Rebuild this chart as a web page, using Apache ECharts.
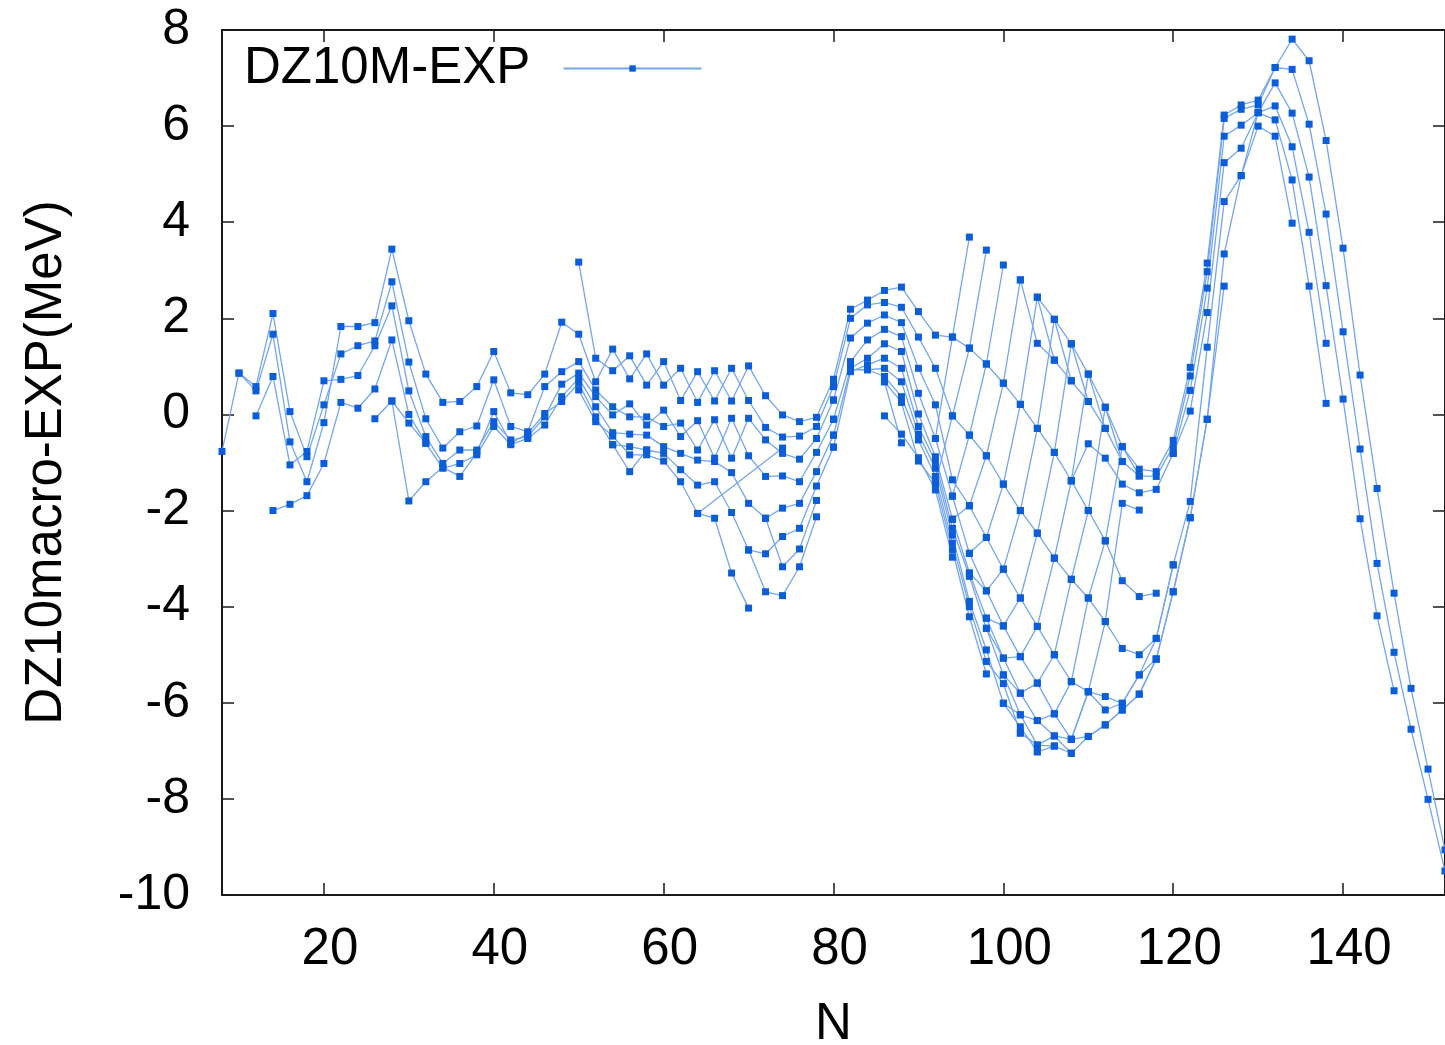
<!DOCTYPE html>
<html><head><meta charset="utf-8">
<script src="https://cdn.jsdelivr.net/npm/echarts@6/dist/echarts.min.js"></script>
<style>html,body{margin:0;padding:0;background:#fff}#c{width:1445px;height:1045px}</style>
</head><body><div id="c"></div>
<script>
// Tick labels
const xTicks = [20, 40, 60, 80, 100, 120, 140];
const yTicks = [-10, -8, -6, -4, -2, 0, 2, 4, 6, 8];
const seriesName = 'DZ10M-EXP';

// Chains: [N, DZ10macro-EXP (MeV)]
const c01 = [[8,-0.77],[10,0.86],[12,0.58],[14,2.10],[16,0.06],[18,-0.88],[20,0.20],[22,1.26],[24,1.43],[26,1.53],[28,2.76],[30,1.09],[32,-0.09],[34,-0.70],[36,-0.36],[38,-0.24],[40,0.72],[42,-0.25],[44,-0.36],[46,0.58],[48,0.89],[50,1.10],[52,0.51],[54,0.16],[56,-0.05],[58,-0.05],[60,-0.25],[62,-0.18],[64,-0.74],[66,-0.11],[68,-0.91],[70,-0.08],[72,-0.53],[74,-0.81],[76,-0.93],[78,-0.50],[80,0.30]];
const c02 = [[10,0.86],[12,0.49],[14,1.67],[16,-0.57],[18,-1.40],[20,-0.17],[22,1.83],[24,1.83],[26,1.91],[28,3.44],[30,1.95],[32,0.84],[34,0.25],[36,0.27],[38,0.58],[40,1.31],[42,0.45],[44,0.41],[46,0.84],[48,1.92],[50,1.67],[52,0.68],[54,1.36],[56,0.74],[58,1.26],[60,0.61],[62,0.96],[64,0.25],[66,0.91],[68,0.28],[70,1.01],[72,0.39],[74,-0.01],[76,-0.15],[78,-0.06],[80,0.73]];
const c03 = [[12,-0.03],[14,0.79],[16,-1.05],[18,-0.77],[20,0.70],[22,0.73],[24,0.81],[26,1.43],[28,2.26],[30,0.49],[32,-0.46],[34,-1.02],[36,-0.74],[38,-0.74],[40,-0.15],[42,-0.53],[44,-0.46],[46,-0.05],[48,0.63],[50,0.86],[52,0.37],[54,-0.01],[56,0.22],[58,-0.22],[60,0.09],[62,-0.46],[64,-0.13],[66,-0.91],[68,-0.08],[70,-0.86],[72,-1.29],[74,-1.28],[76,-1.40],[78,-0.79],[80,-0.10]];
const c04 = [[14,-2.00],[16,-1.87],[18,-1.69],[20,-1.02],[22,0.25],[24,0.13],[26,0.53],[28,1.55],[30,0.00],[32,-0.60],[34,-1.12],[36,-1.02],[38,-0.84],[40,-0.25],[42,-0.63],[44,-0.50],[46,-0.22],[48,0.37],[50,0.75],[52,0.16],[54,-0.38],[56,-0.41],[58,-0.43],[60,-0.67],[62,-0.81],[64,-0.95],[66,-0.98],[68,-1.21],[70,-1.85],[72,-2.16],[74,-1.95],[76,-1.85],[78,-1.19],[80,-0.43]];
const c05 = [[26,-0.09],[28,0.28],[30,-1.80],[32,-1.40],[34,-1.10],[36,-1.29],[38,-0.80],[40,0.06],[42,-0.60],[44,-0.40],[46,0.02],[48,0.27],[50,0.65],[52,-0.05],[54,-0.63],[56,-0.67],[58,-0.74],[60,-0.81],[62,-1.15],[64,-1.47],[66,-1.40],[68,-2.04],[70,-2.82],[72,-2.90],[74,-2.54],[76,-2.37],[78,-1.49],[80,-0.68]];
const c06 = [[28,0.28],[30,-0.18],[32,-0.60]];
const c07 = [[50,3.17],[52,1.17],[54,0.91],[56,1.22],[58,0.61],[60,1.10],[62,0.29],[64,0.89],[66,0.28],[68,0.96],[70,0.29],[72,-0.27],[74,-0.47],[76,-0.45],[78,-0.25],[80,0.58]];
const c08 = [[50,0.51],[52,-0.15],[54,-0.45],[56,-0.84],[58,-0.84],[60,-0.97],[62,-1.40],[64,-2.06],[66,-2.16],[68,-3.30],[70,-4.03]];
const c09 = [[54,-0.63],[56,-1.19],[58,-0.74]];
const c10 = [[64,-2.06],[74,-0.70]];
const c11 = [[70,-2.82],[72,-3.69],[74,-3.77],[76,-3.17],[78,-2.13]];
const c12 = [[72,-2.16],[74,-3.17],[76,-2.80],[78,-1.79]];

const m01 = [[80,0.73],[82,2.19],[84,2.38],[86,2.58],[88,2.65],[90,2.14],[92,1.65],[94,1.61],[96,1.38],[98,1.05],[100,0.65],[102,0.21],[104,-0.29],[106,-0.79],[108,-1.38],[110,-2.00],[112,-2.63],[114,-3.46],[116,-3.79],[118,-3.72]];
const m02 = [[80,0.58],[82,2.00],[84,2.28],[86,2.33],[88,2.23],[90,1.61],[92,0.96],[94,-0.03],[96,-0.43],[98,-0.86],[100,-1.45],[102,-2.00],[104,-2.47],[106,-2.99],[108,-3.43],[110,-3.82],[112,-4.31],[114,-4.87],[116,-5.00],[118,-4.66],[120,-3.13],[122,-1.81],[124,1.40],[126,4.43],[128,4.97],[130,6.28],[132,6.13],[134,4.88],[136,2.67],[138,0.23]];
const m03 = [[80,0.30],[82,1.59],[84,1.90],[86,2.07],[88,1.91],[90,0.96],[92,0.20],[94,-1.36],[96,-1.90],[98,-2.56],[100,-3.22],[102,-3.82],[104,-4.41],[106,-5.00],[108,-5.56],[110,-5.77],[112,-5.87],[114,-6.01],[116,-5.42],[118,-5.09],[120,-3.69],[122,-2.15],[124,-0.10],[126,2.67]];
const m04 = [[80,-0.10],[82,1.10],[84,1.55],[86,1.77],[88,1.62],[90,0.44],[92,-0.50],[94,-1.70],[96,-2.89],[98,-3.67],[100,-4.40],[102,-5.04],[104,-5.59],[106,-6.23],[108,-6.76],[110,-6.70],[112,-6.46],[114,-6.15],[116,-5.82],[118,-5.09]];
const m05 = [[80,-0.43],[82,0.96],[84,1.17],[86,1.47],[88,1.31],[90,0.01],[92,-0.88],[94,-2.18],[96,-3.30],[98,-4.24],[100,-5.07],[102,-5.80],[104,-6.37],[106,-6.69],[108,-7.05]];
const m06 = [[80,-0.68],[82,0.89],[84,1.03],[86,1.17],[88,0.96],[90,-0.25],[92,-0.98],[94,-2.37],[96,-3.37],[98,-4.45],[100,-5.42],[102,-6.25],[104,-6.88],[106,-6.90]];
const m07 = [[82,0.93],[84,0.93],[86,0.96],[88,0.68],[90,-0.41],[92,-1.12],[94,-2.51],[96,-3.89],[98,-4.90],[100,-6.01],[102,-6.50],[104,-7.02]];
const m08 = [[84,0.93],[86,0.79],[88,0.37],[90,-0.53],[92,-1.29],[94,-2.68],[96,-4.00],[98,-5.14],[100,-5.60],[102,-6.63]];
const m09 = [[86,0.68],[88,0.25],[90,-0.97],[92,-1.43],[94,-2.82],[96,-4.21],[98,-5.40]];
const m10 = [[86,-0.03],[88,-0.41],[90,-0.90],[92,-1.57],[94,-2.97]];
const m11 = [[86,0.68],[88,-0.59]];

const s096 = [[92,-0.50],[94,1.61],[96,3.69]];
const s098 = [[92,-1.43],[94,-0.03],[96,1.38],[98,3.42]];
const s100 = [[94,-1.70],[96,-0.43],[98,1.05],[100,3.11]];
const s102 = [[94,-2.18],[96,-1.90],[98,-0.86],[100,0.65],[102,2.80]];
const s104 = [[96,-2.89],[98,-2.56],[100,-1.45],[102,0.21],[104,2.44],[106,1.13]];
const s106 = [[96,-3.30],[98,-3.67],[100,-3.22],[102,-2.00],[104,-0.29],[106,1.98],[108,0.70]];
const s108 = [[98,-4.24],[100,-4.40],[102,-3.82],[104,-2.47],[106,-0.79],[108,1.47],[110,0.27]];
const s110 = [[98,-4.45],[100,-5.07],[102,-5.04],[104,-4.41],[106,-2.99],[108,-1.38],[110,0.84],[112,-0.29]];
const s112 = [[100,-5.42],[102,-5.80],[104,-5.59],[106,-5.00],[108,-3.43],[110,-2.00],[112,0.15],[114,-0.98]];
const s114 = [[100,-6.01],[102,-6.25],[104,-6.37],[106,-6.23],[108,-5.56],[110,-3.82],[112,-2.63],[114,-0.67],[116,-1.28]];
const s116 = [[102,-6.63],[104,-6.88],[106,-6.69],[108,-6.76],[110,-5.77],[112,-4.31],[114,-1.85],[116,-1.99]];
const b01 = [[104,-7.02],[106,-6.90],[108,-7.05],[110,-6.70],[112,-6.46],[114,-6.15],[116,-5.82],[118,-5.09],[120,-3.69],[122,-2.15],[124,-0.10],[126,3.34],[128,4.97],[130,6.00],[132,5.79],[134,3.98]];
const b02 = [[108,-6.76],[110,-5.77],[112,-6.15],[114,-6.01],[116,-5.42],[118,-4.66],[120,-3.13]];

const w01 = [[104,2.44],[106,1.98],[108,1.47],[110,0.84],[112,0.15],[114,-0.67],[116,-1.14],[118,-1.19],[120,-0.54],[122,0.98],[124,3.15],[126,6.23],[128,6.44],[130,6.54],[132,7.22],[134,7.81],[136,7.36],[138,5.70],[140,3.46],[142,0.82],[144,-1.54],[146,-3.72],[148,-5.70],[150,-7.38],[152,-9.06]];
const w02 = [[102,2.80],[104,1.48],[106,1.13],[108,0.70],[110,0.27],[112,-0.29],[114,-0.98],[116,-1.28],[118,-1.29],[120,-0.67],[122,0.80],[124,2.97],[126,6.16],[128,6.35],[130,6.44],[132,7.22],[134,7.18],[136,6.04],[138,4.17],[140,1.72],[142,-0.72],[144,-3.10],[146,-4.95],[148,-6.55],[150,-8.01],[152,-9.50]];
const w03 = [[108,-1.38],[110,-0.61],[112,-0.91],[114,-1.45],[116,-1.63],[118,-1.56],[120,-0.81],[122,0.50],[124,2.63],[126,5.79],[128,6.02],[130,6.28],[132,6.90],[134,6.27],[136,4.94],[138,2.68],[140,0.32],[142,-2.17],[144,-4.19],[146,-5.75]];
const w04 = [[120,-0.81],[122,0.07],[124,2.12],[126,5.24],[128,5.54],[130,6.28],[132,6.42],[134,5.57],[136,3.79],[138,1.48]];

const chains = [c01,c02,c03,c04,c05,c06,c07,c08,c09,c10,c11,c12,
  m01,m02,m03,m04,m05,m06,m07,m08,m09,m10,m11,
  s096,s098,s100,s102,s104,s106,s108,s110,s112,s114,s116,b01,b02,
  w01,w02,w03,w04];

const FONT = '"Liberation Sans", Arial, Helvetica, sans-serif';
const AX = '#1a1a1a';
const chart = echarts.init(document.getElementById('c'), null, {renderer: 'canvas'});

const series = chains.map(d => ({
  name: seriesName, type: 'line', data: d,
  xAxisIndex: 0, yAxisIndex: 0,
  symbol: 'rect', symbolSize: 7, showSymbol: true,
  lineStyle: {color: '#74a6ee', width: 1.3},
  itemStyle: {color: '#0b5ed7'},
  emphasis: {disabled: true},
  clip: true, animation: false
}));

chart.setOption({
  animation: false,
  backgroundColor: '#fff',
  grid: {left: 222, top: 30, right: 0, bottom: 150, containLabel: false, outerBoundsMode: 'none'},
  legend: {
    data: [seriesName], left: 244, top: 43, padding: 0,
    align: 'right', itemWidth: 138, itemHeight: 8,
    formatter: n => n + '  ',
    textStyle: {fontSize: 51, fontFamily: FONT, color: '#000'},
    selectedMode: false
  },
  xAxis: [{
    type: 'value', min: 8, max: 152, position: 'bottom',
    name: 'N', nameLocation: 'middle', nameGap: 104,
    nameTextStyle: {fontSize: 51, fontFamily: FONT, color: '#000'},
    axisLine: {show: true, onZero: false, lineStyle: {color: AX, width: 2}},
    axisTick: {show: true, inside: true, length: 12, customValues: xTicks, lineStyle: {color: AX, width: 1.5}},
    axisLabel: {show: true, customValues: xTicks, fontSize: 51, fontFamily: FONT, color: '#000', margin: 29, padding: [0, 0, 0, 12]},
    splitLine: {show: false}
  }, {
    type: 'value', min: 8, max: 152, position: 'top',
    axisLine: {show: true, onZero: false, lineStyle: {color: AX, width: 2}},
    axisTick: {show: true, inside: true, length: 12, customValues: xTicks, lineStyle: {color: AX, width: 1.5}},
    axisLabel: {show: false}, splitLine: {show: false}
  }],
  yAxis: [{
    type: 'value', min: -10, max: 8, interval: 2, position: 'left',
    name: 'DZ10macro-EXP(MeV)', nameLocation: 'middle', nameGap: 150,
    nameTextStyle: {fontSize: 51, fontFamily: FONT, color: '#000'},
    axisLine: {show: true, onZero: false, lineStyle: {color: AX, width: 2}},
    axisTick: {show: true, inside: true, length: 12, lineStyle: {color: AX, width: 1.5}},
    axisLabel: {show: true, fontSize: 50, fontFamily: FONT, color: '#000', margin: 32},
    splitLine: {show: false}
  }, {
    type: 'value', min: -10, max: 8, interval: 2, position: 'right',
    axisLine: {show: true, onZero: false, lineStyle: {color: AX, width: 2}},
    axisTick: {show: true, inside: true, length: 12, lineStyle: {color: AX, width: 1.5}},
    axisLabel: {show: false}, splitLine: {show: false}
  }],
  series: series
});
</script>
</body></html>
